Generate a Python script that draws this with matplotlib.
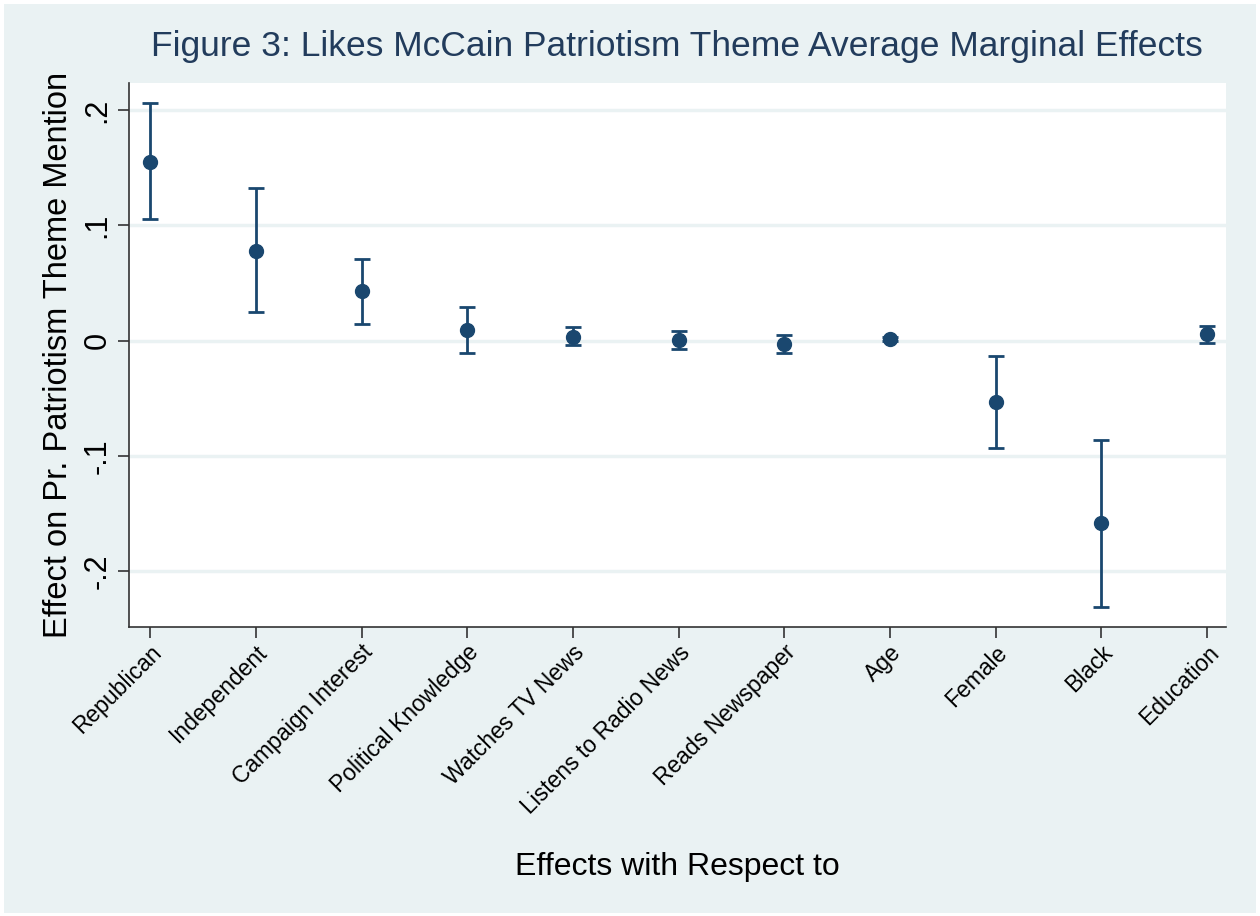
# Likes McCain patriotism theme - average marginal effects (Stata-style plot)
import matplotlib.pyplot as plt
from matplotlib.patches import Rectangle
import numpy as np

plt.rcParams['font.family'] = ['Liberation Sans', 'DejaVu Sans']

# data
labels = ['Republican', 'Independent', 'Campaign Interest', 'Political Knowledge',
          'Watches TV News', 'Listens to Radio News', 'Reads Newspaper', 'Age',
          'Female', 'Black', 'Education']
effect = [0.155, 0.078, 0.043, 0.009, 0.003, 0.0003, -0.003, 0.0015, -0.053, -0.158, 0.006]
ci_low = [0.105, 0.025, 0.014, -0.011, -0.004, -0.007, -0.011, 0.0, -0.093, -0.231, -0.002]
ci_high = [0.206, 0.132, 0.071, 0.029, 0.012, 0.008, 0.005, 0.003, -0.013, -0.086, 0.013]
yticks = [-0.2, -0.1, 0, 0.1, 0.2]
ytick_labels = ['-.2', '-.1', '0', '.1', '.2']

navy = '#1a476f'
bg = '#eaf2f3'

fig = plt.figure(figsize=(12.6, 9.16), dpi=100, facecolor='white')
fig.patches.append(Rectangle((4 / 1260, 3 / 916), 1252 / 1260, 909 / 916,
                             transform=fig.transFigure, facecolor=bg,
                             edgecolor='none', zorder=-1))
ax = fig.add_axes([0.1024, 0.3155, 0.8706, 0.594])
ax.set_facecolor('white')

x = np.arange(1, len(labels) + 1)
eff = np.array(effect)
yerr = [eff - np.array(ci_low), np.array(ci_high) - eff]
ax.errorbar(x, eff, yerr=yerr, fmt='o', color=navy, ecolor=navy,
            markersize=10, elinewidth=2, capsize=6, capthick=2, zorder=3)

ax.set_xlim(0.80, 11.18)
ax.set_ylim(-0.2483, 0.2234)

ax.set_yticks(yticks)
ax.set_yticklabels(ytick_labels, rotation=90, va='center')
ax.set_xticks(x)
ax.set_xticklabels(labels, rotation=45, ha='right', rotation_mode='anchor')
ax.tick_params(axis='y', labelsize=22, length=8, width=1.2, color='#333333', pad=4)
ax.tick_params(axis='x', labelsize=16.5, length=8, width=1.2, color='#333333', pad=2)

ax.grid(axis='y', color=bg, linewidth=2.5)
ax.set_axisbelow(True)
for s in ['top', 'right']:
    ax.spines[s].set_visible(False)
for s in ['left', 'bottom']:
    ax.spines[s].set_color('#333333')
    ax.spines[s].set_linewidth(1.2)

ax.set_ylabel('Effect on Pr. Patriotism Theme Mention', fontsize=23.5, labelpad=6)
ax.set_xlabel('Effects with Respect to', fontsize=23, labelpad=24)
fig.text(0.537, 0.949, 'Figure 3: Likes McCain Patriotism Theme Average Marginal Effects',
         ha='center', va='center', fontsize=25.5, color='#223c5c')

fig.savefig('out.png', dpi=100, facecolor=fig.get_facecolor())
